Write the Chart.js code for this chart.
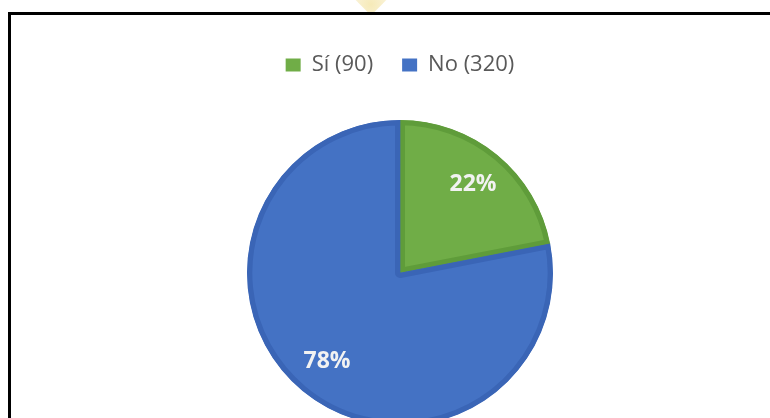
<!DOCTYPE html>
<html>
<head>
<meta charset="utf-8">
<script src="https://cdn.jsdelivr.net/npm/chart.js@4.4.1/dist/chart.umd.min.js"></script>
<style>
  html, body { margin: 0; padding: 0; background: #fff; overflow: hidden; width: 770px; height: 418px; }
  #frame { position: absolute; left: 8px; top: 12px; width: 820px; height: 520px; border: 3px solid #000; box-sizing: border-box; }
  #badge { position: absolute; left: 358px; top: -16px; width: 26px; height: 26px; transform: rotate(45deg);
           background: radial-gradient(circle at 70% 70%, #f6eab8 0%, #f9f1d2 55%, rgba(255,255,255,0) 100%); }
  #wrap { position: absolute; left: 0; top: 0; width: 770px; height: 460px; }
</style>
</head>
<body>
<div id="badge"></div>
<div id="frame"></div>
<div id="wrap"><canvas id="c" width="770" height="460"></canvas></div>
<script>
// Encuesta: respuestas Sí / No
const categories = ['Sí', 'No'];
const values = [90, 320];
const fillColors = ['#70AD47', '#4472C4'];
const edgeColors = ['#5F9C3A', '#3A65B6'];

const total = values.reduce((a, b) => a + b, 0);
const legendLabels = categories.map((c, i) => `${c} (${values[i]})`);

// Percentages written inside each slice
const sliceLabels = {
  id: 'sliceLabels',
  afterDatasetsDraw(chart) {
    const meta = chart.getDatasetMeta(0);
    const ctx = chart.ctx;
    ctx.save();
    ctx.font = 'bold 23px "Open Sans"';
    ctx.fillStyle = '#F2F2F2';
    ctx.textAlign = 'center';
    ctx.textBaseline = 'middle';
    meta.data.forEach((arc, i) => {
      const p = arc.getProps(['x', 'y', 'startAngle', 'endAngle', 'outerRadius'], true);
      const mid = (p.startAngle + p.endAngle) / 2;
      const r = p.outerRadius * 0.75;
      ctx.fillText(Math.round(values[i] / total * 100) + '%', p.x + Math.cos(mid) * r, p.y + Math.sin(mid) * r);
    });
    ctx.restore();
  }
};

new Chart(document.getElementById('c'), {
  type: 'pie',
  data: {
    labels: legendLabels,
    datasets: [{
      data: values,
      backgroundColor: fillColors,
      borderColor: edgeColors,
      borderWidth: 5,
      borderAlign: 'inner'
    }]
  },
  options: {
    responsive: false,
    animation: false,
    radius: 153,
    layout: { padding: { top: 25, left: 30, right: 0, bottom: 0 } },
    plugins: {
      tooltip: { enabled: false },
      legend: {
        position: 'top',
        labels: {
          boxWidth: 15,
          boxHeight: 13,
          padding: 29,
          color: '#595959',
          font: { family: '"Open Sans"', size: 22 },
          generateLabels(chart) {
            const items = Chart.overrides.pie.plugins.legend.labels.generateLabels(chart);
            items.forEach(it => { it.strokeStyle = it.fillStyle; it.lineWidth = 0; });
            return items;
          }
        }
      }
    }
  },
  plugins: [sliceLabels]
});
</script>
</body>
</html>
